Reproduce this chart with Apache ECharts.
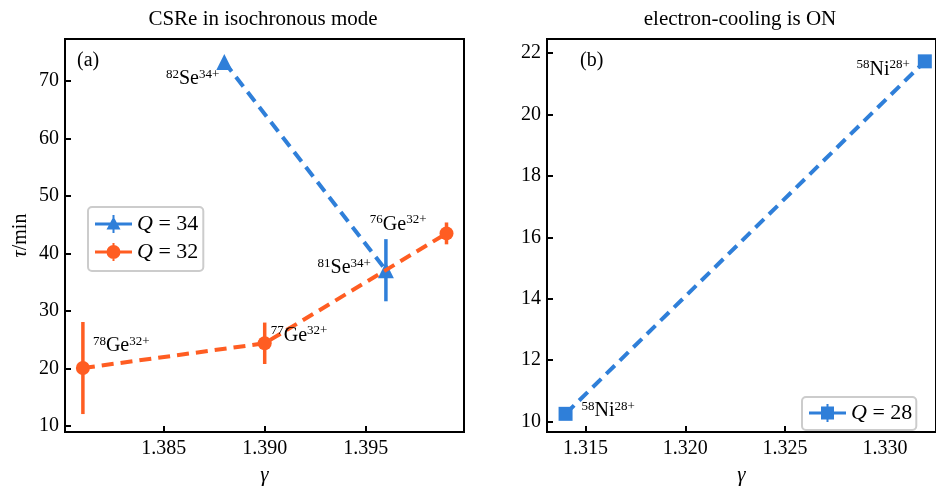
<!DOCTYPE html>
<html><head><meta charset="utf-8">
<script src="https://cdn.jsdelivr.net/npm/echarts@6/dist/echarts.min.js"></script>
<style>html,body{margin:0;padding:0;background:#fff}#c{width:936px;height:491px}</style>
</head><body><div id="c"></div><script>
// ---- data ----
const gammaQ34 = [1.388, 1.396];
const tauQ34 = [73.3, 37.1];
const errQ34 = [0.5, 5.4];
const labelsQ34 = ['{s|82}{m|Se}{s|34+}', '{s|81}{m|Se}{s|34+}'];

const gammaQ32 = [1.381, 1.390, 1.399];
const tauQ32 = [20.1, 24.4, 43.5];
const errQ32 = [8.0, 3.6, 1.9];
const labelsQ32 = ['{s|78}{m|Ge}{s|32+}', '{s|77}{m|Ge}{s|32+}', '{s|76}{m|Ge}{s|32+}'];

const gammaQ28 = [1.314, 1.332];
const tauQ28 = [10.25, 21.73];
const labelsQ28 = ['{s|58}{m|Ni}{s|28+}', '{s|58}{m|Ni}{s|28+}'];

// ---- layout / style (not data) ----
const labelLayoutQ34 = [{align:'right', offset:[-5, 17]}, {align:'right', offset:[-15, -2]}];
const labelLayoutQ32 = [{align:'left', offset:[10, -22]}, {align:'left', offset:[6, -8]}, {align:'right', offset:[-20, -9]}];
const labelLayoutQ28 = [{align:'left', offset:[16, -3]}, {align:'right', offset:[-15, 8]}];

const BLUE = '#2f7fd9';
const ORANGE = '#ff5d22';
const FONT = "'Liberation Serif', 'Times New Roman', serif";

const richLabel = {
  m: {fontSize: 20, fontFamily: FONT, color: '#000', lineHeight: 22},
  s: {fontSize: 13, fontFamily: FONT, color: '#000', lineHeight: 12, verticalAlign: 'top'}
};

function buildPoints(xs, ys, texts, layout) {
  return xs.map((x, i) => ({
    value: [x, ys[i]],
    label: {show: true, position: 'inside', verticalAlign: 'middle',
            align: layout[i].align, offset: layout[i].offset,
            formatter: texts[i], rich: richLabel}
  }));
}
function buildErr(xs, ys, es) {
  return xs.map((x, i) => [x, ys[i] - es[i], ys[i] + es[i]]);
}
function errRender(params, api) {
  const p1 = api.coord([api.value(0), api.value(1)]);
  const p2 = api.coord([api.value(0), api.value(2)]);
  return {type: 'line', shape: {x1: p1[0], y1: p1[1], x2: p2[0], y2: p2[1]},
          style: {stroke: api.visual('color'), lineWidth: 3.5}};
}

const P34 = 'path://M0,7.5H37V10.5H0Z M17.5,0H19.5V18H17.5Z M18.5,1.5L25.5,14.5H11.5Z';
const P32 = 'path://M0,7.5H37V10.5H0Z M17.5,0H19.5V18H17.5Z M25.5,9A7,7,0,1,1,11.5,9A7,7,0,1,1,25.5,9Z';
const P28 = 'path://M0,7.5H37V10.5H0Z M17.5,0H19.5V18H17.5Z M12,2.5H25V15.5H12Z';

function xAxisCfg(gi, min, max, name) {
  return {
    type: 'value', gridIndex: gi, min: min, max: max, minInterval: 0.005, maxInterval: 0.005,
    name: name, nameLocation: 'middle', nameGap: 33,
    nameTextStyle: {fontFamily: FONT, fontSize: 21, fontStyle: 'italic', color: '#000'},
    axisLine: {show: true, lineStyle: {color: '#000', width: 2}},
    axisTick: {show: true, inside: true, length: 6, lineStyle: {color: '#000', width: 2}},
    axisLabel: {color: '#000', fontFamily: FONT, fontSize: 20, margin: 7,
                showMinLabel: false, showMaxLabel: false,
                formatter: v => v.toFixed(3)},
    splitLine: {show: false}
  };
}
function yAxisCfg(gi, min, max, step, name) {
  return {
    type: 'value', gridIndex: gi, min: min, max: max, minInterval: step, maxInterval: step,
    name: name, nameLocation: 'middle', nameGap: 34,
    nameTextStyle: {fontFamily: FONT, fontSize: 20, color: '#000',
                    rich: {i: {fontFamily: FONT, fontSize: 20, fontStyle: 'italic', color: '#000'}}},
    axisLine: {show: true, lineStyle: {color: '#000', width: 2}},
    axisTick: {show: true, inside: true, length: 6, lineStyle: {color: '#000', width: 2}},
    axisLabel: {color: '#000', fontFamily: FONT, fontSize: 20, margin: 6,
                showMinLabel: false, showMaxLabel: false},
    splitLine: {show: false}
  };
}

const legendText = {fontFamily: FONT, fontSize: 22, color: '#000',
  rich: {i: {fontFamily: FONT, fontSize: 22, fontStyle: 'italic', color: '#000'}}};
const legendFmt = n => '{i|Q}' + n.substring(1);

const chart = echarts.init(document.getElementById('c'));
chart.setOption({
  animation: false,
  backgroundColor: '#fff',
  grid: [
    {left: 65, right: 472, top: 39, bottom: 52, show: true, borderColor: '#000', borderWidth: 2, backgroundColor: 'transparent'},
    {left: 547, right: -2, top: 39, bottom: 52, show: true, borderColor: '#000', borderWidth: 2, backgroundColor: 'transparent'}
  ],
  xAxis: [xAxisCfg(0, 1.380114, 1.399866, 'γ'), xAxisCfg(1, 1.31307, 1.33256, 'γ')],
  yAxis: [yAxisCfg(0, 8.98, 77.29, 10, '{i|τ}/min'), yAxisCfg(1, 9.658, 22.458, 2, '')],
  legend: [
    {data: [{name: 'Q = 34', icon: P34}, {name: 'Q = 32', icon: P32}],
     left: 88, top: 207, orient: 'vertical', itemWidth: 37, itemHeight: 18, itemGap: 6,
     padding: [6, 5, 8, 7], borderColor: '#cccccc', borderWidth: 2, borderRadius: 4,
     backgroundColor: '#fff', selectedMode: false, textStyle: legendText, formatter: legendFmt},
    {data: [{name: 'Q = 28', icon: P28}],
     left: 802, top: 397, orient: 'vertical', itemWidth: 37, itemHeight: 18, itemGap: 6,
     padding: [5, 4, 6, 7], borderColor: '#cccccc', borderWidth: 2, borderRadius: 4,
     backgroundColor: '#fff', selectedMode: false, textStyle: legendText, formatter: legendFmt}
  ],
  graphic: [
    {type: 'text', x: 263, y: 9, style: {text: 'CSRe in isochronous mode', fontFamily: FONT, fontSize: 21, fill: '#000', align: 'center', verticalAlign: 'top'}},
    {type: 'text', x: 740, y: 9, style: {text: 'electron-cooling is ON', fontFamily: FONT, fontSize: 21, fill: '#000', align: 'center', verticalAlign: 'top'}},
    {type: 'text', x: 77, y: 51, style: {text: '(a)', fontFamily: FONT, fontSize: 20, fill: '#000'}},
    {type: 'text', x: 580, y: 51, style: {text: '(b)', fontFamily: FONT, fontSize: 20, fill: '#000'}}
  ],
  series: [
    {type: 'custom', name: 'err34', xAxisIndex: 0, yAxisIndex: 0, z: 1,
     renderItem: errRender, itemStyle: {color: BLUE}, encode: {x: 0, y: [1, 2]},
     data: buildErr(gammaQ34, tauQ34, errQ34)},
    {type: 'line', name: 'Q = 34', xAxisIndex: 0, yAxisIndex: 0, z: 2,
     symbol: 'triangle', symbolSize: 16, showAllSymbol: true,
     itemStyle: {color: BLUE}, lineStyle: {color: BLUE, width: 4, type: [12, 7]},
     data: buildPoints(gammaQ34, tauQ34, labelsQ34, labelLayoutQ34)},
    {type: 'custom', name: 'err32', xAxisIndex: 0, yAxisIndex: 0, z: 3,
     renderItem: errRender, itemStyle: {color: ORANGE}, encode: {x: 0, y: [1, 2]},
     data: buildErr(gammaQ32, tauQ32, errQ32)},
    {type: 'line', name: 'Q = 32', xAxisIndex: 0, yAxisIndex: 0, z: 4,
     symbol: 'circle', symbolSize: 14, showAllSymbol: true,
     itemStyle: {color: ORANGE}, lineStyle: {color: ORANGE, width: 4, type: [12, 7]},
     data: buildPoints(gammaQ32, tauQ32, labelsQ32, labelLayoutQ32)},
    {type: 'line', name: 'Q = 28', xAxisIndex: 1, yAxisIndex: 1, z: 2,
     symbol: 'rect', symbolSize: 14, showAllSymbol: true,
     itemStyle: {color: BLUE}, lineStyle: {color: BLUE, width: 4, type: [12, 7]},
     data: buildPoints(gammaQ28, tauQ28, labelsQ28, labelLayoutQ28)}
  ]
});
</script></body></html>
